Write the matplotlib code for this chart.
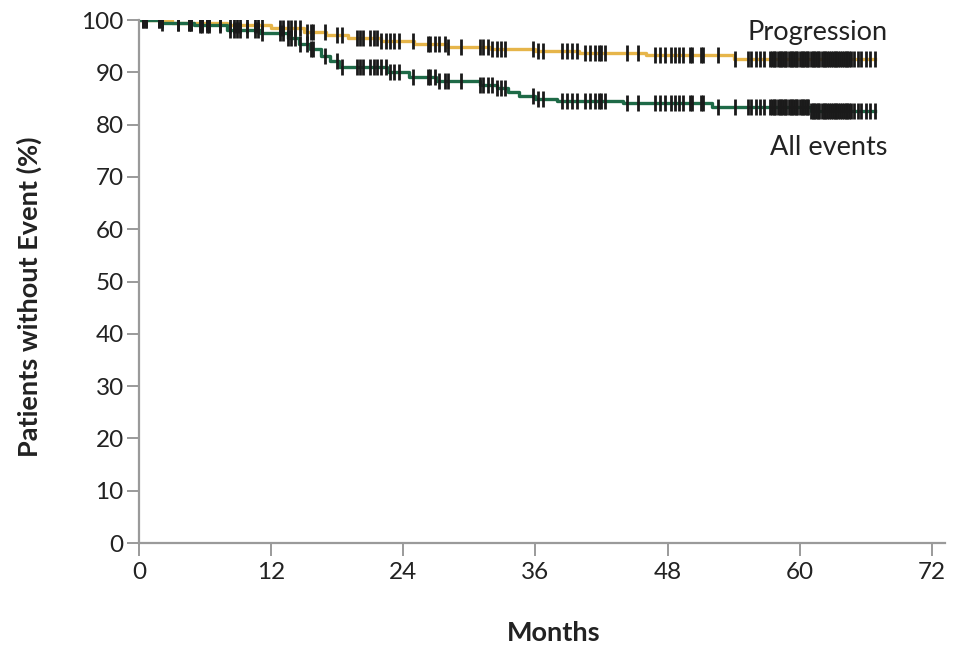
import numpy as np
import matplotlib
matplotlib.use("Agg")
import matplotlib.pyplot as plt

plt.rcParams['font.family'] = ['Lato', 'DejaVu Sans']

# Kaplan-Meier step points (months, % without event)
prog_t = [0, 3, 8, 12, 15, 17, 19, 22, 25, 28, 32, 36, 40, 46, 54]
prog_s = [100, 99.5, 99, 98.4, 97.8, 97.2, 96.6, 96, 95.4, 94.9, 94.5, 94.1, 93.7, 93.3, 92.6]

all_t = [0, 2, 5, 8, 11, 13.5, 14.5, 15.5, 16.5, 17.3, 18.2, 22.5, 24.5, 27, 31,
         32.5, 33.5, 34.5, 36, 38, 44, 52, 61]
all_s = [100, 99.5, 99, 98.2, 97.5, 96.5, 95.5, 94.4, 93.2, 92.1, 91, 90.1, 89.2,
         88.3, 87.6, 87, 86.2, 85.5, 85, 84.6, 84.1, 83.4, 82.6]

follow_end = 66.8

# censored observations (months)
censored = [0.4, 0.6, 1.8, 2.1, 3.5, 4.5, 4.7, 5.5, 5.7, 6.2, 6.4, 7.4, 8.3, 8.6,
            8.9, 9.2, 9.8, 10.5, 10.8, 11.2, 12.8, 13.1, 13.5, 13.8, 14.2, 14.6,
            15.3, 15.6, 15.8, 16.9, 18.0, 18.4, 19.8, 20.1, 20.3, 21.0, 21.3, 21.6,
            22.0, 22.4, 22.8, 23.2, 23.6, 24.9, 26.2, 26.4, 26.9, 27.2, 27.8, 28.1,
            29.2, 31.0, 31.2, 31.7, 32.1, 32.5, 32.9, 33.2, 35.8, 36.2, 36.7, 38.4,
            38.9, 39.3, 39.8, 40.5, 41.0, 41.4, 41.8, 42.0, 42.3, 44.3, 45.3, 46.9,
            47.3, 47.8, 48.3, 48.7, 49.0, 49.4, 50.0, 50.2, 51.0, 51.2, 52.6, 54.1,
            55.3, 55.6, 56.0, 56.4, 56.8, 57.3, 57.5, 57.7, 57.8, 58.0, 58.2, 58.3,
            58.5, 58.7, 58.8, 59.0, 59.2, 59.3, 59.5, 59.7, 59.8, 60.0, 60.2, 60.3,
            60.5, 60.7, 60.8, 61.0, 61.2, 61.3, 61.5, 61.7, 61.8, 62.0, 62.2, 62.3,
            62.5, 62.7, 62.8, 63.0, 63.2, 63.3, 63.5, 63.7, 63.8, 64.0, 64.2, 64.3,
            64.5, 64.7, 64.9, 65.3, 65.6, 66.0, 66.4, 66.8]

xticks = [0, 12, 24, 36, 48, 60, 72]
yticks = [0, 10, 20, 30, 40, 50, 60, 70, 80, 90, 100]

prog_color = '#e6b54a'
all_color = '#1e6a47'
spine_color = '#9a9a9a'
text_color = '#222222'


def km_at(t, times, surv):
    idx = np.searchsorted(times, t, side='right') - 1
    return np.asarray(surv)[idx]


fig = plt.figure(figsize=(9.6, 6.48), dpi=100)
ax = fig.add_axes([0.1448, 0.162, 0.8396, 0.807])

for times, surv, col in [(prog_t, prog_s, prog_color), (all_t, all_s, all_color)]:
    tt = list(times) + [follow_end]
    ss = list(surv) + [surv[-1]]
    ax.step(tt, ss, where='post', color=col, lw=2.4, zorder=2)
    c = np.array(censored)
    ax.plot(c, km_at(c, times, surv), ls='none', marker='|', ms=11, mew=2.0,
            color='#1a1a1a', zorder=3)

ax.text(68.0, 97.7, 'Progression', ha='right', va='center', fontsize=19.5, color=text_color)
ax.text(68.0, 75.7, 'All events', ha='right', va='center', fontsize=19.5, color=text_color)

ax.set_xlim(0, 73.2)
ax.set_ylim(0, 100)
ax.set_xticks(xticks)
ax.set_yticks(yticks)
ax.tick_params(axis='both', direction='out', length=9, width=1.4, color=spine_color,
               labelsize=17.5, labelcolor=text_color)
ax.tick_params(axis='y', pad=2)
ax.tick_params(axis='x', pad=5)

for side in ['top', 'right']:
    ax.spines[side].set_visible(False)
for side in ['left', 'bottom']:
    ax.spines[side].set_color(spine_color)
    ax.spines[side].set_linewidth(1.6)

ax.set_xlabel('Months', fontsize=19.5, fontweight='bold', color=text_color)
ax.set_ylabel('Patients without Event (%)', fontsize=19.5, fontweight='bold',
              color=text_color)
ax.xaxis.set_label_coords(0.515, -0.15)
ax.yaxis.set_label_coords(-0.12, 0.47)

fig.savefig('out.png', dpi=100)
